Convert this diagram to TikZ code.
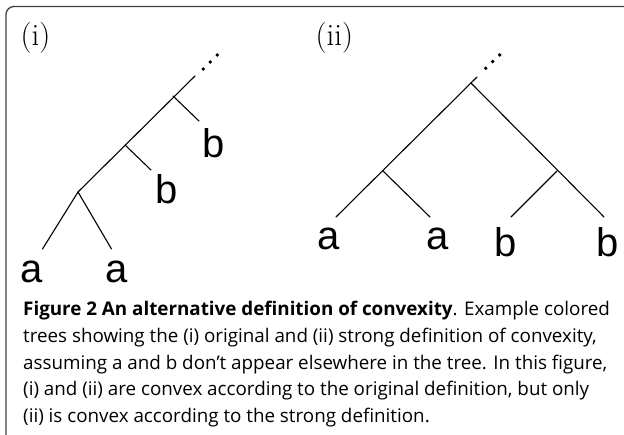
\documentclass[tikz,border=0pt]{standalone}
\usepackage{fontspec}
\newfontfamily\leaffont{Liberation Sans}
\newfontfamily\capfont{Open Sans}
\begin{document}
\begin{tikzpicture}[x=1pt, y=-1pt, line cap=round, line join=round,
	edge/.style={line width=1.1pt},
	leaf/.style={inner sep=0pt, anchor=base, font=\leaffont\fontsize{40}{40}\selectfont},
	tag/.style={inner sep=0pt, anchor=base west, font=\fontsize{31}{31}\selectfont},
	caption/.style={inner sep=0pt, anchor=base west, font=\capfont\fontsize{18.8}{18.8}\selectfont}]
	\useasboundingbox (0,0) rectangle (624,435);
	\clip (0,0) rectangle (624,435);
	% Frame
	\draw [line width=1.3pt, draw=black!75, rounded corners=8pt] (6,6.5) rectangle (634,446);
	% Tags
	\node [tag] (tag-1) at (20.5,45.5) {(i)};
	\node [tag] (tag-2) at (315.5,45.5) {(ii)};
	% First tree
	\coordinate (top-1) at (195,76);
	\coordinate (node-1-1) at (173,96);
	\coordinate (node-1-2) at (125,145);
	\coordinate (node-1-3) at (78,192);
	\coordinate (tip-1-1) at (199,121);
	\coordinate (tip-1-2) at (151,170);
	\coordinate (tip-1-3) at (42.5,249);
	\coordinate (tip-1-4) at (111.5,249);
	\draw [edge] (node-1-3) -- (top-1);
	\foreach \a in {1, 2}
		\draw [edge] (node-1-\a) -- (tip-1-\a);
	\foreach \a in {3, 4}
		\draw [edge] (node-1-3) -- (tip-1-\a);
	\foreach \d in {0, 1, 2}
		\fill (203.3+7*\d, 69-7*\d) circle (1.9pt);
	\node [leaf] (leaf-1-1) at (214,158) {b};
	\node [leaf] (leaf-1-2) at (167,204) {b};
	\node [leaf] (leaf-1-3) at (32,283) {a};
	\node [leaf] (leaf-1-4) at (117,283) {a};
	% Second tree
	\coordinate (top-2) at (477,77);
	\coordinate (node-2-1) at (471,83);
	\coordinate (node-2-2) at (383,171);
	\coordinate (node-2-3) at (557,171);
	\coordinate (tip-2-1) at (336,217);
	\coordinate (tip-2-2) at (430,217);
	\coordinate (tip-2-3) at (511,217);
	\coordinate (tip-2-4) at (604,217);
	\draw [edge] (tip-2-1) -- (top-2);
	\draw [edge] (node-2-1) -- (tip-2-4);
	\draw [edge] (node-2-2) -- (tip-2-2);
	\draw [edge] (node-2-3) -- (tip-2-3);
	\foreach \d in {0, 1, 2}
		\fill (485.7+7*\d, 68.3-6.7*\d) circle (1.9pt);
	\node [leaf] (leaf-2-1) at (328.5,250) {a};
	\node [leaf] (leaf-2-2) at (438,250) {a};
	\node [leaf] (leaf-2-3) at (505.5,257) {b};
	\node [leaf] (leaf-2-4) at (607.5,257) {b};
	% Caption
	\foreach \txt [count=\x] in {{{\bfseries Figure 2 An alternative definition of convexity}. Example colored},
		{trees showing the (i) original and (ii) strong definition of convexity,},
		{assuming a and b don’t appear elsewhere in the tree. In this figure,},
		{(i) and (ii) are convex according to the original definition, but only},
		{(ii) is convex according to the strong definition.}}
		\node [caption] (cap-\x) at (23, 289.4+26.6*\x) {\txt};
\end{tikzpicture}
\end{document}
